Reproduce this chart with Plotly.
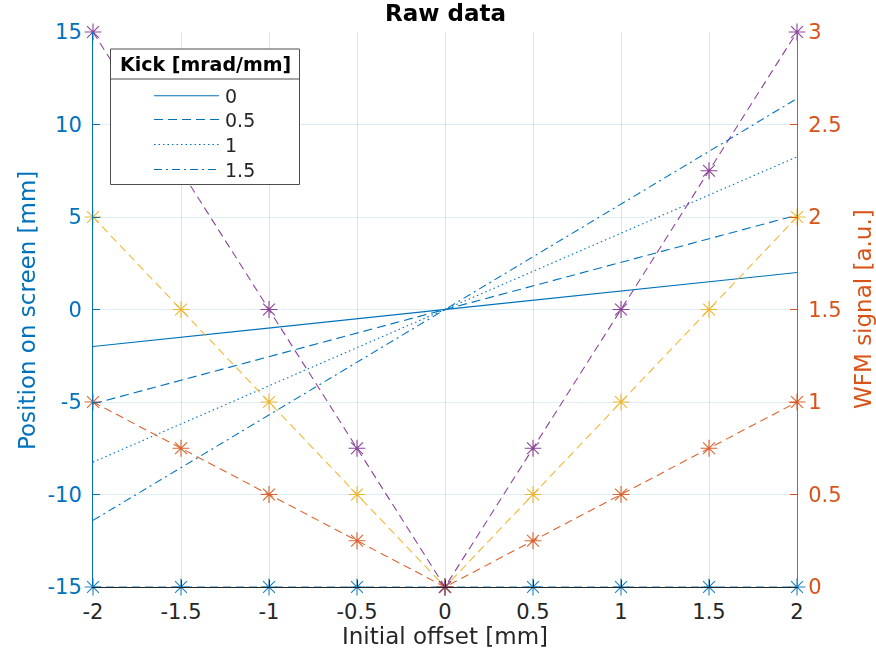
import plotly.graph_objects as go

# ---- data -------------------------------------------------------------
offset = [-2, -1.5, -1, -0.5, 0, 0.5, 1, 1.5, 2]          # initial offset [mm]
offset_line = [-2, 0, 2]

kicks = ["0", "0.5", "1", "1.5"]                           # kick [mrad/mm]

# position on screen [mm] for each kick
pos_k0 = [-2, 0, 2]
pos_k05 = [-5.1, 0, 5.1]
pos_k1 = [-8.25, 0, 8.25]
pos_k15 = [-11.4, 0, 11.4]

# WFM signal [a.u.] for each kick
wfm_k0 = [0, 0, 0, 0, 0, 0, 0, 0, 0]
wfm_k05 = [1, 0.75, 0.5, 0.25, 0, 0.25, 0.5, 0.75, 1]
wfm_k1 = [2, 1.5, 1, 0.5, 0, 0.5, 1, 1.5, 2]
wfm_k15 = [3, 2.25, 1.5, 0.75, 0, 0.75, 1.5, 2.25, 3]

x_ticks = [-2, -1.5, -1, -0.5, 0, 0.5, 1, 1.5, 2]
x_ticktext = ["-2", "-1.5", "-1", "-0.5", "0", "0.5", "1", "1.5", "2"]
y_ticks = [-15, -10, -5, 0, 5, 10, 15]
y_ticktext = ["-15", "-10", "-5", "0", "5", "10", "15"]
y2_ticks = [0, 0.5, 1, 1.5, 2, 2.5, 3]
y2_ticktext = ["0", "0.5", "1", "1.5", "2", "2.5", "3"]

# ---- styling ----------------------------------------------------------
BLUE = "#0072BD"
ORANGE = "#D95319"
YELLOW = "#EDB120"
PURPLE = "#7E2F8E"
DARK = "#262626"
FONT = "DejaVu Sans"

DASHES = ["solid", "9px,5px", "1.5px,3px", "8px,4px,2px,4px"]
WFM_DASH = "8px,5px"

# plot area in pixels
L, R, T, B = 93, 797, 32, 587


def px(x):
    return (x - L) / (R - L)


def py(y):
    return (B - y) / (B - T)


fig = go.Figure()

# position curves (left axis)
for pos, dash in zip([pos_k0, pos_k05, pos_k1, pos_k15], DASHES):
    fig.add_trace(go.Scatter(
        x=offset_line, y=pos, mode="lines", yaxis="y",
        line=dict(color=BLUE, width=1.1, dash=dash),
        showlegend=False, hoverinfo="skip"))

# WFM signal curves (right axis)
for wfm, color in zip([wfm_k0, wfm_k05, wfm_k1, wfm_k15],
                      [BLUE, ORANGE, YELLOW, PURPLE]):
    fig.add_trace(go.Scatter(
        x=offset, y=wfm, mode="lines+markers", yaxis="y2",
        line=dict(color=color, width=1.1, dash=WFM_DASH),
        marker=dict(symbol="asterisk-open", size=14,
                    line=dict(color=color, width=1.1)),
        opacity=0.9, showlegend=False, hoverinfo="skip", cliponaxis=False))

# ---- legend box (drawn by hand) ---------------------------------------
shapes = [
    dict(type="rect", xref="paper", yref="paper", layer="above",
         x0=px(110.5), x1=px(299.5), y0=py(184.5), y1=py(49),
         line=dict(color="#4d4d4d", width=1), fillcolor="white"),
    dict(type="line", xref="paper", yref="paper", layer="above",
         x0=px(110.5), x1=px(299.5), y0=py(79), y1=py(79),
         line=dict(color="#4d4d4d", width=1)),
]
annotations = [
    dict(text="<b>Kick [mrad/mm]</b>", x=px(205), y=py(64),
         xref="paper", yref="paper", showarrow=False,
         xanchor="center", yanchor="middle",
         font=dict(family=FONT, size=19, color="black")),
]
entry_y = [95.7, 119.5, 144.5, 169.5]
for lab, dash, yy in zip(kicks, DASHES, entry_y):
    shapes.append(dict(type="line", xref="paper", yref="paper", layer="above",
                       x0=px(154), x1=px(219), y0=py(yy), y1=py(yy),
                       line=dict(color=BLUE, width=1.1, dash=dash)))
    annotations.append(dict(text=lab, x=px(223), y=py(yy),
                            xref="paper", yref="paper", showarrow=False,
                            xanchor="left", yanchor="middle",
                            font=dict(family=FONT, size=19, color=DARK)))

# title and axis titles
annotations += [
    dict(text="<b>Raw data</b>", x=px(445), y=py(13), xref="paper", yref="paper",
         showarrow=False, xanchor="center", yanchor="middle",
         font=dict(family=FONT, size=23, color="black")),
    dict(text="Initial offset [mm]", x=px(445), y=py(636), xref="paper",
         yref="paper", showarrow=False, xanchor="center", yanchor="middle",
         font=dict(family=FONT, size=23, color=DARK)),
    dict(text="Position on screen [mm]", x=px(27), y=py(311), xref="paper",
         yref="paper", showarrow=False, xanchor="center", yanchor="middle",
         textangle=-90, font=dict(family=FONT, size=23, color=BLUE)),
    dict(text="WFM signal [a.u.]", x=px(863), y=py(309), xref="paper",
         yref="paper", showarrow=False, xanchor="center", yanchor="middle",
         textangle=-90, font=dict(family=FONT, size=23, color=ORANGE)),
]

fig.update_layout(
    width=876, height=652,
    margin=dict(l=L, r=876 - R, t=T, b=652 - B, autoexpand=False),
    paper_bgcolor="white", plot_bgcolor="white",
    font=dict(family=FONT, size=21, color=DARK),
    xaxis=dict(range=[-2, 2], tickvals=x_ticks, ticktext=x_ticktext,
               ticks="inside", ticklen=7, tickcolor=DARK,
               showline=True, linecolor=DARK, linewidth=1,
               showgrid=True, gridcolor="rgba(38,38,38,0.13)", gridwidth=1,
               zeroline=False, tickfont=dict(size=21, color=DARK),
               ticklabelstandoff=6),
    yaxis=dict(range=[-15, 15], tickvals=y_ticks, ticktext=y_ticktext,
               ticks="inside", ticklen=7, tickcolor=BLUE,
               showline=True, linecolor=BLUE, linewidth=1,
               showgrid=True, gridcolor="rgba(0,114,189,0.13)", gridwidth=1,
               zeroline=False, tickfont=dict(size=21, color=BLUE),
               ticklabelstandoff=6),
    yaxis2=dict(range=[0, 3], tickvals=y2_ticks, ticktext=y2_ticktext,
                overlaying="y", side="right", anchor="x",
                ticks="inside", ticklen=7, tickcolor=ORANGE,
                showline=True, linecolor=ORANGE, linewidth=1,
                showgrid=False, zeroline=False,
                tickfont=dict(size=21, color=ORANGE),
                ticklabelstandoff=6),
    shapes=shapes,
    annotations=annotations,
    showlegend=False,
)

fig.write_html("out.html")
